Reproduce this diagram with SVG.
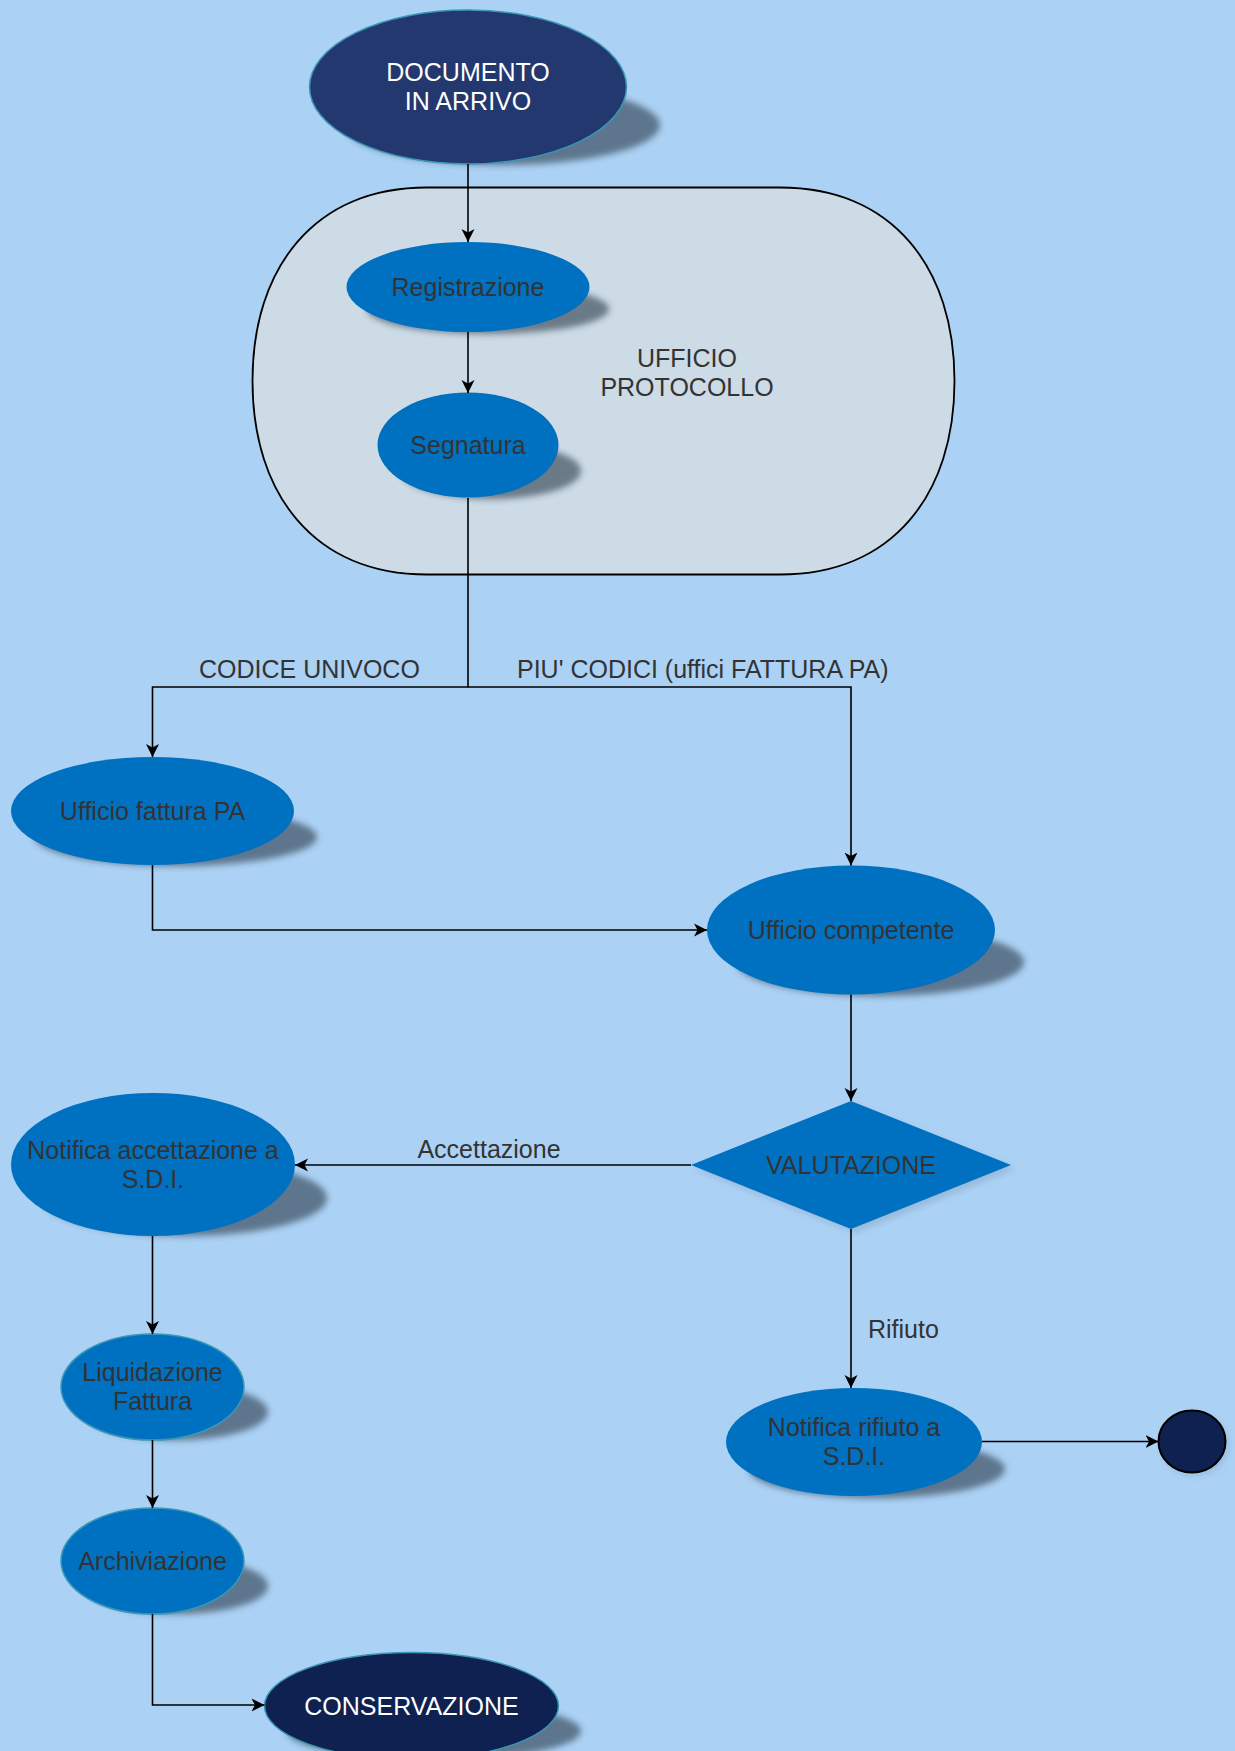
<svg xmlns="http://www.w3.org/2000/svg" width="1235" height="1751" viewBox="0 0 1235 1751">
<defs>
<style>
.bg{fill:#abd1f4}
.node{fill:#0070c0}
.ol{stroke:#3a97b5;stroke-width:1.5}
.dark{fill:#22386e;stroke:#3a97b5;stroke-width:1.5}
.navy{fill:#0f2150}
.sh{fill:#2a3a4a;opacity:0.6;filter:url(#blur)}
.t{font-family:"Liberation Sans",Arial,sans-serif;font-size:25px;fill:#333333;text-anchor:middle}
.w{fill:#ffffff}
.lbl{font-family:"Liberation Sans",Arial,sans-serif;font-size:25px;fill:#333333}
.c{fill:none;stroke:#000000;stroke-width:1.6}
</style>
<filter id="blur" x="-20%" y="-40%" width="140%" height="180%"><feGaussianBlur stdDeviation="3"/></filter>
<marker id="arr" markerUnits="userSpaceOnUse" markerWidth="14" markerHeight="14" refX="13" refY="7" orient="auto">
<path d="M0,0.5 L13,7 L0,13.5 L3.5,7 z" fill="#000000"/>
</marker>
</defs>
<rect class="bg" x="0" y="0" width="1235" height="1751"/>

<g id="ufficio-protocollo">
<path d="M427,187.5 L780,187.5 C893,187.5 954.5,268 954.5,381 C954.5,494 893,574.5 780,574.5 L427,574.5 C314,574.5 252.5,494 252.5,381 C252.5,268 314,187.5 427,187.5 Z" fill="#ccdbe6" stroke="#000000" stroke-width="1.8"/>
<text class="t" x="687" y="366.5">UFFICIO</text>
<text class="t" x="687" y="395.5">PROTOCOLLO</text>
</g>

<g id="documento-in-arrivo">
<ellipse class="sh" cx="502" cy="125" rx="158" ry="40"/>
<ellipse class="dark" cx="468" cy="87" rx="158.5" ry="77"/>
<text class="t w" x="468" y="81">DOCUMENTO</text>
<text class="t w" x="468" y="110">IN ARRIVO</text>
</g>

<g id="registrazione">
<ellipse class="sh" cx="488" cy="309" rx="121" ry="25"/>
<ellipse class="node" cx="468" cy="287" rx="121.5" ry="45"/>
<text class="t" x="468" y="296">Registrazione</text>
</g>

<g id="segnatura">
<ellipse class="sh" cx="491" cy="471" rx="90" ry="28"/>
<ellipse class="node" cx="468" cy="445" rx="90.5" ry="52.5"/>
<text class="t" x="468" y="454">Segnatura</text>
</g>

<g id="ufficio-fattura-pa">
<ellipse class="sh" cx="176" cy="837" rx="141" ry="29"/>
<ellipse class="node" cx="152.5" cy="811" rx="141.5" ry="54"/>
<text class="t" x="152.5" y="820">Ufficio fattura PA</text>
</g>

<g id="ufficio-competente">
<ellipse class="sh" cx="880" cy="962" rx="144" ry="34"/>
<ellipse class="node" cx="851" cy="930" rx="144" ry="64.5"/>
<text class="t" x="851" y="939">Ufficio competente</text>
</g>

<g id="valutazione">
<polygon points="855,1105 1015,1169 855,1233 695,1169" fill="#2a3a4a" opacity="0.15" filter="url(#blur)"/>
<polygon class="node" points="851,1101 1011,1165 851,1229 691,1165"/>
<text class="t" x="851" y="1174">VALUTAZIONE</text>
</g>

<g id="notifica-accettazione">
<ellipse class="sh" cx="185" cy="1198" rx="142" ry="38"/>
<ellipse class="node" cx="153" cy="1164.5" rx="142" ry="71.5"/>
<text class="t" x="153" y="1158.5">Notifica accettazione a</text>
<text class="t" x="153" y="1187.5">S.D.I.</text>
</g>

<g id="liquidazione-fattura">
<ellipse class="sh" cx="177" cy="1412" rx="91" ry="28"/>
<ellipse class="node ol" cx="152.5" cy="1387" rx="91.5" ry="53"/>
<text class="t" x="152.5" y="1381">Liquidazione</text>
<text class="t" x="152.5" y="1410">Fattura</text>
</g>

<g id="archiviazione">
<ellipse class="sh" cx="177" cy="1586" rx="91" ry="28"/>
<ellipse class="node ol" cx="152.5" cy="1561" rx="91.5" ry="53"/>
<text class="t" x="152.5" y="1570">Archiviazione</text>
</g>

<g id="conservazione">
<ellipse class="sh" cx="434" cy="1731" rx="147" ry="29"/>
<ellipse class="navy ol" cx="411.5" cy="1706" rx="147" ry="53.5"/>
<text class="t w" x="411.5" y="1715">CONSERVAZIONE</text>
</g>

<g id="notifica-rifiuto">
<ellipse class="sh" cx="877" cy="1469" rx="128" ry="29"/>
<ellipse class="node" cx="854" cy="1442" rx="128" ry="54"/>
<text class="t" x="854" y="1436">Notifica rifiuto a</text>
<text class="t" x="854" y="1465">S.D.I.</text>
</g>

<g id="fine">
<ellipse cx="1195" cy="1445" rx="34" ry="31.5" fill="#2a3a4a" opacity="0.12" filter="url(#blur)"/>
<ellipse class="navy" cx="1192" cy="1441.5" rx="33.5" ry="31" stroke="#000000" stroke-width="2"/>
</g>

<g id="connectors">
<line class="c" x1="468" y1="164" x2="468" y2="242" marker-end="url(#arr)"/>
<line class="c" x1="468" y1="332" x2="468" y2="393" marker-end="url(#arr)"/>
<polyline class="c" points="468,498 468,687 152.5,687 152.5,757" marker-end="url(#arr)"/>
<polyline class="c" points="468,687 851,687 851,865.5" marker-end="url(#arr)"/>
<polyline class="c" points="152.5,865 152.5,930 707,930" marker-end="url(#arr)"/>
<line class="c" x1="851" y1="994.5" x2="851" y2="1101" marker-end="url(#arr)"/>
<line class="c" x1="691" y1="1165" x2="295" y2="1165" marker-end="url(#arr)"/>
<line class="c" x1="851" y1="1229" x2="851" y2="1388" marker-end="url(#arr)"/>
<line class="c" x1="152.5" y1="1236" x2="152.5" y2="1334" marker-end="url(#arr)"/>
<line class="c" x1="152.5" y1="1440" x2="152.5" y2="1508" marker-end="url(#arr)"/>
<polyline class="c" points="152.5,1614 152.5,1705 264.5,1705" marker-end="url(#arr)"/>
<line class="c" x1="982" y1="1441.5" x2="1158.5" y2="1441.5" marker-end="url(#arr)"/>
<text class="lbl" x="199" y="677.5">CODICE UNIVOCO</text>
<text class="lbl" x="517" y="677.5">PIU' CODICI (uffici FATTURA PA)</text>
<text class="lbl" x="489" y="1157.5" text-anchor="middle">Accettazione</text>
<text class="lbl" x="868" y="1338">Rifiuto</text>
</g>
</svg>
